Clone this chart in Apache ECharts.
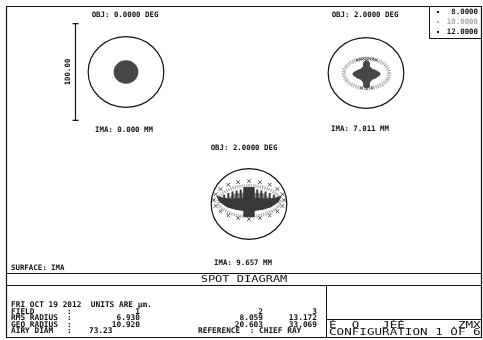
<!DOCTYPE html>
<html>
<head>
<meta charset="utf-8">
<script src="https://cdn.jsdelivr.net/npm/echarts@6/dist/echarts.min.js"></script>
<style>
  html, body { margin: 0; padding: 0; background: #fff; }
  #chart { width: 483px; height: 340px; }
</style>
</head>
<body>
<div id="chart"></div>
<script>
// ---- Report values ----
const fieldAngles = ['0.0000', '2.0000', '2.0000'];   // OBJ, degrees
const imageHeights = ['0.000', '7.011', '9.657'];     // IMA, mm
const wavelengths = ['8.0000', '10.0000', '12.0000'];
const fieldNumbers = ['1', '2', '3'];
const rmsRadius = ['6.930', '8.059', '13.172'];
const geoRadius = ['10.920', '20.603', '33.069'];
const airyDiam = '73.23';
const scaleBarLength = 100;                           // micrometres
const reportDate = 'FRI OCT 19 2012';

// ---- Ray intercepts, micrometres relative to the chief ray (x right, y up) ----
// Field 2: cross-shaped core (wavelengths 1 and 3)
const spot2Core = [[0.5,13],[3,11.5],[3.5,6.5],[6,4],[9.5,2.5],[13.5,0],[13.5,-2],[9.5,-5],[6,-6.5],[3.5,-9.5],[3,-14.5],[0.5,-15.5],[-2,-14.5],[-2.5,-9.5],[-5,-6.5],[-8.5,-5],[-12.5,-2],[-12.5,0],[-8.5,2.5],[-5,4],[-2.5,6.5],[-2,11.5]];
// Field 2: outer ring of wavelength 2
const spot2Ring = [[22.5,-0.5],[21.8,3.5],[19.6,7.3],[16.1,10.5],[11.5,12.9],[6.2,14.5],[0.5,15],[-5.2,14.5],[-10.5,12.9],[-15.1,10.5],[-18.6,7.3],[-20.8,3.5],[-21.5,-0.5],[-20.8,-4.5],[-18.6,-8.3],[-15.1,-11.5],[-10.5,-13.9],[-5.2,-15.5],[0.5,-16],[6.2,-15.5],[11.5,-13.9],[16.1,-11.5],[19.6,-8.3],[21.8,-4.5]];
// Field 2: wavelength 3 rays on the ring
const spot2Marks = [[-8.5,13.4],[-5.5,14.3],[-2.5,14.9],[0.5,15],[3.5,14.9],[6.5,14.3],[9.5,13.4],[-4.5,-15.4],[0.5,-16],[5.5,-15.4]];

// Field 3: crown-shaped core
const spot3Core = [[-31,8],[-28,2],[-21,-3],[-13,-5.5],[-5,-6.5],[-5,-13],[5,-13],[5,-6.5],[13,-5.5],[21,-3],[28,2],[31,8],[25,6],[18,5],[11,5.5],[5,6],[5,17],[-5,17],[-5,6],[-11,5.5],[-18,5],[-25,6]];
// Field 3: spikes on the upper rim of the crown [x, yFrom, yTo]
const spot3Spikes = [[-24,5.5,9.5],[-20,5,11.5],[-16,5,13],[-12,5.5,14],[-8,5.5,15],[8,5.5,15],[12,5.5,14],[16,5,13],[20,5,11.5],[24,5.5,9.5]];
// Field 3: diffuse rays inside the crown
const spot3Haze = [[-22,3],[-15,10],[0,12],[15,10],[22,3],[14,-5],[0,-8],[-14,-5]];
// Field 3: wavelength 2 ring
const spot3Ring = [[30,3],[29,7.1],[26,11],[21.2,14.3],[15,16.9],[7.8,18.5],[0,19],[-7.8,18.5],[-15,16.9],[-21.2,14.3],[-26,11],[-29,7.1],[-30,3],[-29,-1.1],[-26,-5],[-21.2,-8.3],[-15,-10.9],[-7.8,-12.5],[0,-13],[7.8,-12.5],[15,-10.9],[21.2,-8.3],[26,-5],[29,-1.1]];
// Field 3: wavelength 3 ring of rays
const spot3Marks = [[34,4],[32.3,10.1],[27.5,15.5],[20,19.9],[10.5,22.6],[0,23.6],[-10.5,22.6],[-20,19.9],[-27.5,15.5],[-32.3,10.1],[-34,4],[-32.3,-2.1],[-27.5,-7.5],[-20,-11.9],[-10.5,-14.6],[0,-15.6],[10.5,-14.6],[20,-11.9],[27.5,-7.5],[32.3,-2.1]];

// ---- Styling ----
const INK = '#111';
const DARK = '#474747';
const CORE = '#383838';
const LIGHT = '#a9a9a9';
const MONO = '"DejaVu Sans Mono", "Liberation Mono", monospace';
const small = 'bold 7.4px ' + MONO;
const block = 'bold 7.8px ' + MONO;

// Panel placement (pixel centre of each spot plot)
const panels = [
  { cx: 126, cy: 72 },
  { cx: 366, cy: 73 },
  { cx: 249, cy: 204 }
];
const HALF = 60;          // axis half-range, micrometres
const GW = 124, GH = 116; // plot box in pixels

const grids = [], xAxes = [], yAxes = [];
panels.forEach((p, i) => {
  grids.push({ left: p.cx - GW / 2, top: p.cy - GH / 2, width: GW, height: GH, containLabel: false });
  xAxes.push({ type: 'value', gridIndex: i, min: -HALF, max: HALF, show: false });
  yAxes.push({ type: 'value', gridIndex: i, min: -HALF, max: HALF, show: false });
});

// closed polygon from a point list
function polySeries(idx, pts, fill, z) {
  return {
    type: 'custom', xAxisIndex: idx, yAxisIndex: idx, z: z || 2, silent: true,
    data: [[0, 0]],
    renderItem: (params, api) => ({
      type: 'polygon',
      shape: { points: pts.map(p => api.coord(p)) },
      style: { fill: fill, stroke: fill, lineWidth: 1 }
    })
  };
}
// dotted closed ring through a point list
function ringSeries(idx, pts, color, width) {
  return {
    type: 'custom', xAxisIndex: idx, yAxisIndex: idx, z: 1, silent: true,
    data: [[0, 0]],
    renderItem: (params, api) => ({
      type: 'polygon',
      shape: { points: pts.map(p => api.coord(p)) },
      style: { fill: 'none', stroke: color, lineWidth: width, lineDash: [1.2, 1.1] }
    })
  };
}
// small x-shaped ray markers
function markSeries(idx, pts, color, half, width) {
  return {
    type: 'custom', xAxisIndex: idx, yAxisIndex: idx, z: 3, silent: true,
    data: pts,
    renderItem: (params, api) => {
      const c = api.coord([api.value(0), api.value(1)]);
      return {
        type: 'group',
        children: [
          { type: 'line', shape: { x1: c[0] - half, y1: c[1] - half, x2: c[0] + half, y2: c[1] + half }, style: { stroke: color, lineWidth: width } },
          { type: 'line', shape: { x1: c[0] - half, y1: c[1] + half, x2: c[0] + half, y2: c[1] - half }, style: { stroke: color, lineWidth: width } }
        ]
      };
    }
  };
}
// Airy disc outline (radius = airy diameter / 2)
function airySeries(idx) {
  return {
    type: 'custom', xAxisIndex: idx, yAxisIndex: idx, z: 4, silent: true,
    data: [[0, 0, parseFloat(airyDiam) / 2]],
    renderItem: (params, api) => {
      const c = api.coord([api.value(0), api.value(1)]);
      const s = api.size([api.value(2), api.value(2)]);
      return {
        type: 'ellipse',
        shape: { cx: c[0], cy: c[1], rx: s[0], ry: s[1] },
        style: { fill: 'none', stroke: INK, lineWidth: 1.2 }
      };
    }
  };
}

const series = [];
panels.forEach((p, i) => series.push(airySeries(i)));

// Field 1: compact round spot, radius = geometric radius
series.push({
  type: 'custom', xAxisIndex: 0, yAxisIndex: 0, z: 2, silent: true,
  data: [[0, 0, parseFloat(geoRadius[0])]],
  renderItem: (params, api) => {
    const c = api.coord([api.value(0), api.value(1)]);
    const s = api.size([api.value(2), api.value(2)]);
    return {
      type: 'ellipse',
      shape: { cx: c[0], cy: c[1], rx: s[0], ry: s[1] },
      style: { fill: DARK, stroke: DARK, lineWidth: 2.2 }
    };
  }
});

// Scale bar beside field 1
series.push({
  type: 'custom', xAxisIndex: 0, yAxisIndex: 0, z: 2, silent: true,
  data: [[-49.5, -scaleBarLength / 2, scaleBarLength / 2]],
  renderItem: (params, api) => {
    const a = api.coord([api.value(0), api.value(1)]);
    const b = api.coord([api.value(0), api.value(2)]);
    const x = Math.round(a[0]) + 0.5;
    return {
      type: 'group',
      children: [
        { type: 'line', shape: { x1: x, y1: a[1], x2: x, y2: b[1] }, style: { stroke: INK, lineWidth: 1.2 } },
        { type: 'line', shape: { x1: x - 3, y1: a[1], x2: x + 3, y2: a[1] }, style: { stroke: INK, lineWidth: 1.2 } },
        { type: 'line', shape: { x1: x - 3, y1: b[1], x2: x + 3, y2: b[1] }, style: { stroke: INK, lineWidth: 1.2 } },
        { type: 'text', x: x - 7, y: (a[1] + b[1]) / 2, rotation: Math.PI / 2,
          style: { text: scaleBarLength.toFixed(2), font: small, fill: INK, textAlign: 'center', textVerticalAlign: 'middle' } }
      ]
    };
  }
});

// Field 2
series.push(ringSeries(1, spot2Ring, LIGHT, 3.8));
series.push(polySeries(1, spot2Core, DARK, 2));
series.push(markSeries(1, spot2Marks, '#555', 1.3, 1));

// Field 3
series.push(ringSeries(2, spot3Ring, LIGHT, 3.2));
series.push(polySeries(2, spot3Haze, '#8c8c8c', 1));
series.push(polySeries(2, spot3Core, CORE, 2));
series.push({
  type: 'custom', xAxisIndex: 2, yAxisIndex: 2, z: 2, silent: true,
  data: spot3Spikes,
  renderItem: (params, api) => {
    const a = api.coord([api.value(0), api.value(1)]);
    const b = api.coord([api.value(0), api.value(2)]);
    return { type: 'line', shape: { x1: a[0], y1: a[1], x2: b[0], y2: b[1] }, style: { stroke: CORE, lineWidth: 2 } };
  }
});
series.push(markSeries(2, spot3Marks, '#555', 1.8, 1));

// ---- Frame, labels and report block ----
function T(x, y, text, opt) {
  opt = opt || {};
  return {
    type: 'text', x: x, y: y, z: 10, silent: true,
    scaleX: opt.sx || 1, scaleY: opt.sy || 1,
    style: { text: text, font: opt.font || small, fill: opt.fill || INK,
             textAlign: opt.align || 'left', textVerticalAlign: 'middle' }
  };
}
function L(x1, y1, x2, y2) {
  return { type: 'line', z: 10, silent: true, shape: { x1, y1, x2, y2 }, style: { stroke: INK, lineWidth: 1 } };
}

const rows = [305, 311.5, 318, 324.5, 331];

const graphic = [
  { type: 'rect', z: 10, silent: true, shape: { x: 6.5, y: 6.5, width: 475, height: 331 }, style: { fill: 'none', stroke: INK, lineWidth: 1.2 } },
  L(6.5, 273.5, 481.5, 273.5),
  L(6.5, 285.5, 481.5, 285.5),
  L(326.5, 285.5, 326.5, 337.5),
  L(326.5, 319.5, 481.5, 319.5),
  // wavelength key
  { type: 'rect', z: 10, silent: true, shape: { x: 429.5, y: 6.5, width: 52, height: 32 }, style: { fill: 'none', stroke: INK, lineWidth: 1 } },

  T(panels[0].cx - 1, 15, 'OBJ: ' + fieldAngles[0] + ' DEG', { align: 'center' }),
  T(panels[1].cx - 1, 15, 'OBJ: ' + fieldAngles[1] + ' DEG', { align: 'center' }),
  T(panels[2].cx - 5, 148, 'OBJ: ' + fieldAngles[2] + ' DEG', { align: 'center' }),
  T(panels[0].cx - 2, 130, 'IMA: ' + imageHeights[0] + ' MM', { align: 'center' }),
  T(panels[1].cx - 6, 129, 'IMA: ' + imageHeights[1] + ' MM', { align: 'center' }),
  T(panels[2].cx - 6, 263, 'IMA: ' + imageHeights[2] + ' MM', { align: 'center' }),

  T(11, 268, 'SURFACE: IMA'),
  T(244, 280, 'SPOT DIAGRAM', { align: 'center', font: '12px ' + MONO, sy: 0.78 }),

  T(11, rows[0], reportDate + '  UNITS ARE \u00b5m.', { font: block }),
  T(11, rows[1], 'FIELD', { font: block }),
  T(11, rows[2], 'RMS RADIUS', { font: block }),
  T(11, rows[3], 'GEO RADIUS', { font: block }),
  T(11, rows[4], 'AIRY DIAM', { font: block }),
  T(67, rows[1], ':', { font: block }), T(67, rows[2], ':', { font: block }),
  T(67, rows[3], ':', { font: block }), T(67, rows[4], ':', { font: block }),
  T(140, rows[1], fieldNumbers[0], { align: 'right', font: block }),
  T(263, rows[1], fieldNumbers[1], { align: 'right', font: block }),
  T(317, rows[1], fieldNumbers[2], { align: 'right', font: block }),
  T(140, rows[2], rmsRadius[0], { align: 'right', font: block }),
  T(263, rows[2], rmsRadius[1], { align: 'right', font: block }),
  T(317, rows[2], rmsRadius[2], { align: 'right', font: block }),
  T(140, rows[3], geoRadius[0], { align: 'right', font: block }),
  T(263, rows[3], geoRadius[1], { align: 'right', font: block }),
  T(317, rows[3], geoRadius[2], { align: 'right', font: block }),
  T(89, rows[4], airyDiam, { font: block }),
  T(198, rows[4], 'REFERENCE  : CHIEF RAY', { font: block }),

  T(329, 325.5, '\u00c9  O   J\u00c9\u00c9      .ZMX', { font: '12.6px ' + MONO, sy: 0.62 }),
  T(329, 333, 'CONFIGURATION 1 OF 6', { font: '12.6px ' + MONO, sy: 0.62 })
];

// wavelength key entries
const keyColors = [INK, LIGHT, INK];
wavelengths.forEach((w, i) => {
  const y = 12 + i * 10;
  graphic.push({ type: 'rect', z: 10, silent: true, shape: { x: 437, y: y - 1, width: 2, height: 2 }, style: { fill: keyColors[i] } });
  graphic.push(T(478, y, w, { align: 'right', fill: keyColors[i] }));
});

const chart = echarts.init(document.getElementById('chart'), null, { renderer: 'canvas' });
chart.setOption({
  animation: false,
  backgroundColor: '#fff',
  grid: grids,
  xAxis: xAxes,
  yAxis: yAxes,
  series: series,
  graphic: graphic
});
</script>
</body>
</html>
